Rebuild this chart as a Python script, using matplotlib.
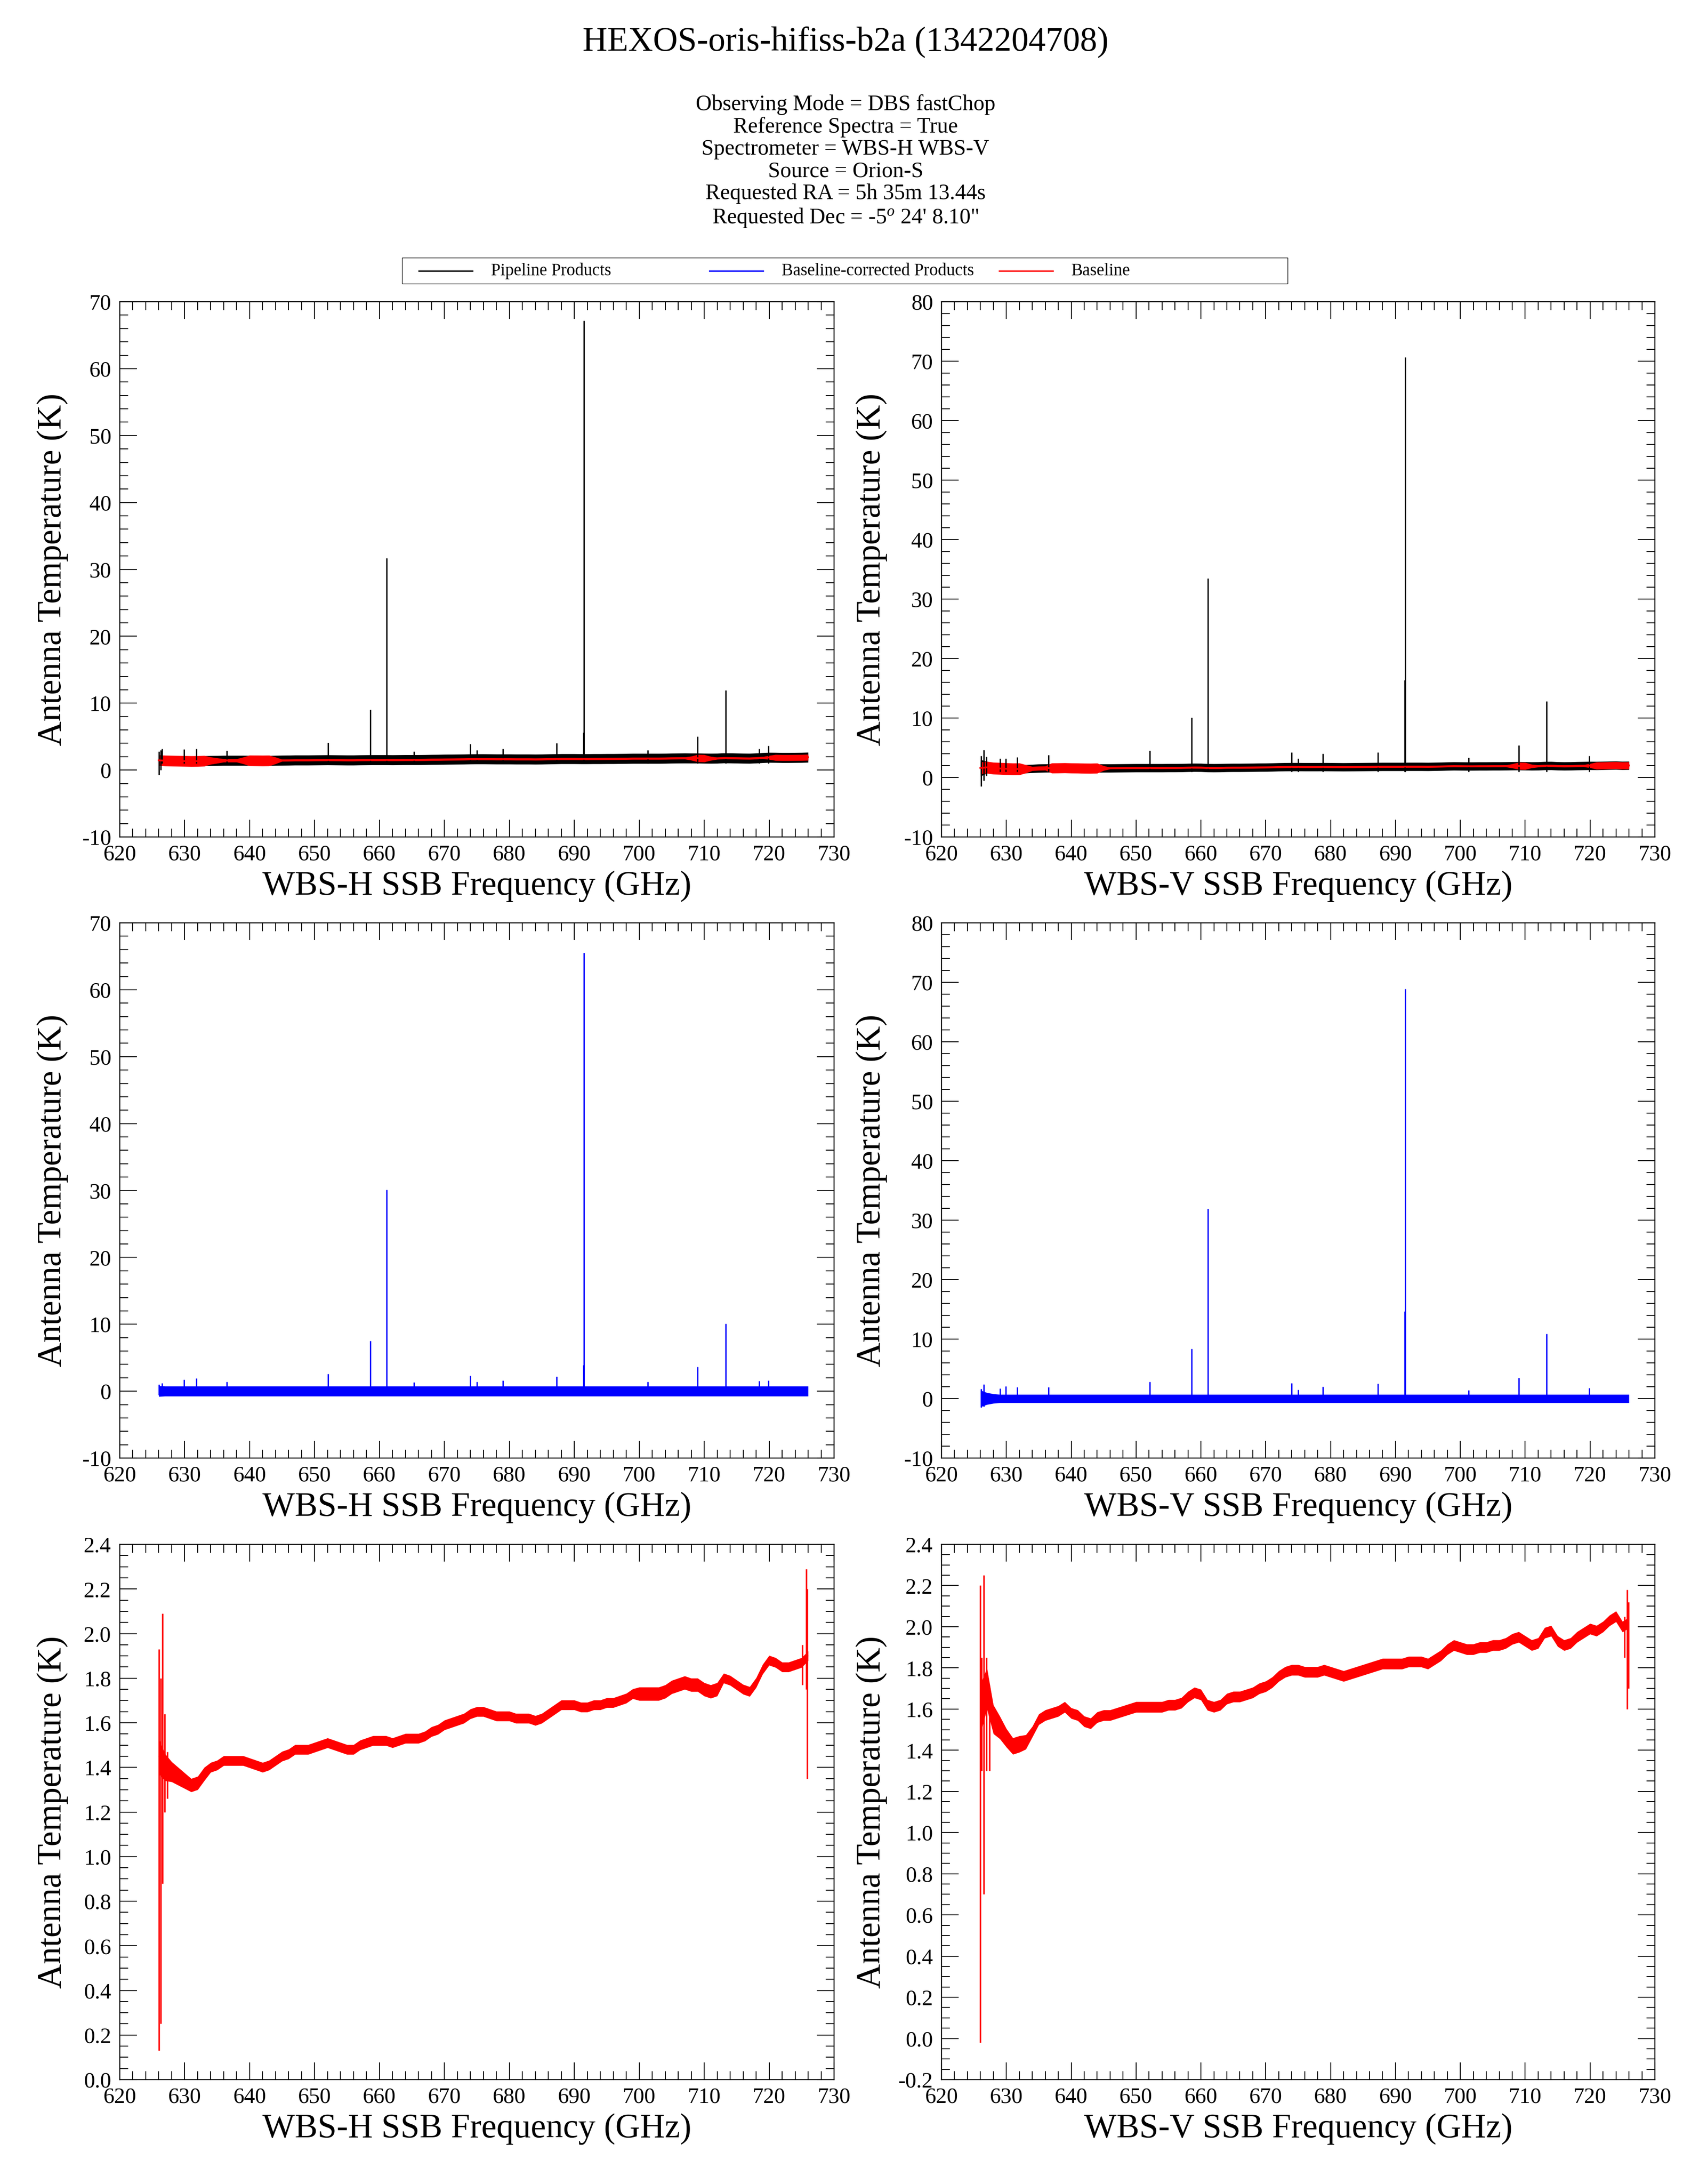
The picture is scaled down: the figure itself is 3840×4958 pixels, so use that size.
import numpy as np
import matplotlib
matplotlib.use("Agg")
import matplotlib.pyplot as plt
from matplotlib.ticker import MultipleLocator, FormatStrFormatter
from matplotlib.lines import Line2D
from matplotlib.patches import Rectangle

plt.rcParams["font.family"] = ["Liberation Serif", "DejaVu Serif"]
plt.rcParams["mathtext.fontset"] = "custom"
plt.rcParams["mathtext.rm"] = "Liberation Serif"
plt.rcParams["mathtext.it"] = "Liberation Serif:italic"
plt.rcParams["axes.unicode_minus"] = False

# ---------------- data ----------------
TITLE = "HEXOS-oris-hifiss-b2a (1342204708)"
INFO_LINES = ["Observing Mode = DBS fastChop",
              "Reference Spectra = True",
              "Spectrometer = WBS-H WBS-V",
              "Source = Orion-S",
              "Requested RA = 5h 35m 13.44s",
              "Requested Dec = -5$^o$ 24' 8.10\""]
LEGEND_LABELS = ["Pipeline Products", "Baseline-corrected Products", "Baseline"]
LEGEND_COLORS = ["black", "blue", "red"]

FREQ = list(range(626, 727))  # GHz, 1 GHz sampling of the smooth baseline

BASE_H = [1.45, 1.40, 1.38, 1.36, 1.34, 1.32, 1.33, 1.37, 1.40, 1.41,
          1.43, 1.43, 1.43, 1.43, 1.42, 1.41, 1.40, 1.41, 1.43, 1.45,
          1.46, 1.48, 1.48, 1.48, 1.49, 1.50, 1.51, 1.50, 1.49, 1.48,
          1.48, 1.50, 1.51, 1.52, 1.52, 1.52, 1.51, 1.52, 1.53, 1.53,
          1.53, 1.54, 1.56, 1.57, 1.59, 1.60, 1.61, 1.62, 1.64, 1.65,
          1.65, 1.64, 1.63, 1.63, 1.63, 1.62, 1.62, 1.62, 1.61, 1.62,
          1.64, 1.66, 1.68, 1.68, 1.68, 1.67, 1.67, 1.68, 1.68, 1.69,
          1.69, 1.70, 1.71, 1.73, 1.73, 1.73, 1.73, 1.73, 1.74, 1.76,
          1.77, 1.78, 1.77, 1.77, 1.75, 1.74, 1.75, 1.80, 1.79, 1.77,
          1.75, 1.74, 1.78, 1.84, 1.88, 1.87, 1.85, 1.85, 1.86, 1.87,
          1.90]
BASE_V = [1.60, 1.70, 1.55, 1.51, 1.46, 1.42, 1.43, 1.44, 1.49, 1.55,
          1.57, 1.58, 1.59, 1.61, 1.58, 1.57, 1.54, 1.53, 1.56, 1.57,
          1.57, 1.58, 1.59, 1.60, 1.61, 1.61, 1.61, 1.61, 1.61, 1.62,
          1.62, 1.63, 1.66, 1.68, 1.67, 1.62, 1.61, 1.62, 1.65, 1.66,
          1.66, 1.67, 1.68, 1.70, 1.71, 1.73, 1.76, 1.78, 1.79, 1.79,
          1.78, 1.78, 1.78, 1.79, 1.78, 1.77, 1.76, 1.77, 1.78, 1.79,
          1.80, 1.81, 1.82, 1.82, 1.82, 1.82, 1.83, 1.83, 1.83, 1.82,
          1.84, 1.86, 1.89, 1.91, 1.90, 1.89, 1.89, 1.90, 1.90, 1.91,
          1.91, 1.92, 1.94, 1.95, 1.93, 1.91, 1.92, 1.97, 1.98, 1.93,
          1.91, 1.92, 1.95, 1.97, 1.99, 1.98, 2.00, 2.03, 2.05, 2.00,
          2.02]

# half-width of the baseline ripple seen in the bottom panels (K)
SPREAD_H = [0.08, 0.06, 0.045, 0.04, 0.035, 0.03, 0.03, 0.03] + [0.022] * 66 + [0.03] * 13 + [0.022] * 14
SPREAD_V = [0.12, 0.10, 0.07, 0.055, 0.045, 0.04, 0.04, 0.035] + [0.026] * 93

# half-width of the channel noise in the spectra (K)
NOISE_H = [0.8] + [0.75] * 100
NOISE_V = [1.4, 1.0, 0.8] + [0.7] * 98

# half-width of the red baseline trace as seen in the top panels (K)
REDTOP_H = ([0.8] * 8 + [0.55, 0.4] + [0.25] * 3 + [0.5] + [0.8] * 4 + [0.5] + [0.15] * 63
            + [0.3] + [0.55] * 2 + [0.3] + [0.15] * 8 + [0.3] + [0.45] * 6)
REDTOP_V = ([1.0] * 7 + [0.7] + [0.35] * 3 + [0.85] * 8 + [0.4] + [0.15] * 62
            + [0.35] + [0.6] * 2 + [0.3] + [0.18] * 8 + [0.35] + [0.6] * 6)

# emission lines: frequency, peak in baseline-corrected and pipeline spectra
LINES_H_FREQ = [626.5, 629.9, 631.8, 636.5, 652.1, 658.6, 661.1, 665.3, 674.0, 675.0,
                679.0, 687.3, 691.4, 691.5, 701.3, 709.0, 713.3, 718.5, 719.9]
BLUE_H_PEAK = [1.2, 1.7, 1.9, 1.4, 2.6, 7.5, 30.1, 1.3, 2.3, 1.4,
               1.6, 2.2, 3.9, 65.5, 1.4, 3.6, 10.1, 1.5, 1.6]
BLACK_H_PEAK = [3.2, 3.1, 3.2, 2.9, 4.1, 9.0, 31.7, 2.8, 3.9, 3.0,
                3.2, 4.0, 5.6, 67.2, 3.0, 5.0, 11.9, 3.2, 3.6]

LINES_V_FREQ = [626.5, 629.0, 629.9, 631.7, 636.5, 652.1, 658.6, 661.1, 674.0, 675.0,
                678.8, 687.3, 691.4, 691.5, 701.3, 709.0, 713.3, 719.9]
BLUE_V_PEAK = [2.4, 1.7, 2.1, 1.9, 1.9, 2.8, 8.4, 31.9, 2.6, 1.5,
               2.0, 2.5, 14.7, 68.9, 1.4, 3.5, 10.9, 1.8]
BLACK_V_PEAK = [4.6, 3.2, 3.2, 3.4, 3.8, 4.5, 10.05, 33.5, 4.2, 3.2,
                4.0, 4.2, 16.4, 70.7, 3.3, 5.4, 12.8, 3.6]

# band-edge glitches (frequency, low, high)
EDGE_H_X = [626.05, 626.3, 626.6, 626.9, 627.3, 725.1, 725.7, 725.85]
EDGE_H_LO = [0.13, 0.25, 0.88, 1.20, 1.26, 1.77, 1.75, 1.35]
EDGE_H_HI = [1.93, 1.80, 2.09, 1.64, 1.47, 1.95, 2.29, 2.20]
EDGE_V_X = [626.0, 626.2, 626.55, 626.9, 627.4, 725.3, 725.7, 725.9]
EDGE_V_LO = [-0.02, 1.30, 0.70, 1.30, 1.30, 1.85, 1.60, 1.70]
EDGE_V_HI = [2.20, 1.85, 2.25, 1.85, 1.68, 2.05, 2.18, 2.12]

TOPEDGE_H_X, TOPEDGE_H_LO, TOPEDGE_H_HI = [626.05, 626.3], [-0.7, 0.0], [2.8, 3.0]
TOPEDGE_V_X, TOPEDGE_V_LO, TOPEDGE_V_HI = [626.1, 626.5, 626.9], [-1.45, -0.5, 0.3], [3.6, 4.6, 3.5]
MIDEDGE_H_X, MIDEDGE_H_LO, MIDEDGE_H_HI = [626.05], [-0.6], [1.0]
MIDEDGE_V_X, MIDEDGE_V_LO, MIDEDGE_V_HI = [626.1, 626.5], [-1.5, -1.3], [1.6, 2.4]

XLABELS = ["WBS-H SSB Frequency (GHz)", "WBS-V SSB Frequency (GHz)"]
YLABEL = "Antenna Temperature (K)"

# ---------------- figure ----------------
W, H = 3840, 4958
fig = plt.figure(figsize=(W / 100, H / 100), dpi=100)


def fx(p):
    return p / W


def fy(p):
    return 1 - p / H


fig.text(0.5, fy(114), TITLE, ha="center", va="baseline", fontsize=56)
for line, yb in zip(INFO_LINES, [250, 301, 351, 402, 452, 507]):
    fig.text(0.5, fy(yb), line, ha="center", va="baseline", fontsize=36)

# legend box
fig.add_artist(Rectangle((fx(913), fy(644)), fx(2924 - 913), (644 - 585) / H,
                         transform=fig.transFigure, fill=False, lw=1.0, ec="black"))
for lab, col, x0 in zip(LEGEND_LABELS, LEGEND_COLORS, [951, 1611, 2269]):
    fig.add_artist(Line2D([fx(x0), fx(x0 + 122)], [fy(615), fy(615)], color=col, lw=2.2,
                          transform=fig.transFigure))
    fig.text(fx(x0 + 164), fy(625), lab, ha="left", va="baseline", fontsize=28)

col_left = [272, 2138]
col_width = [1622, 1620]
row_top = [685, 2095, 3506]
row_h = 1215

F = np.array(FREQ, dtype=float)


def style(ax, ylim, ymaj, ymin_, fmt, xlabel, ylab_x):
    ax.set_xlim(620, 730)
    ax.set_ylim(*ylim)
    ax.xaxis.set_major_locator(MultipleLocator(10))
    ax.xaxis.set_minor_locator(MultipleLocator(2))
    ax.yaxis.set_major_locator(MultipleLocator(ymaj))
    ax.yaxis.set_minor_locator(MultipleLocator(ymin_))
    ax.yaxis.set_major_formatter(FormatStrFormatter(fmt))
    ax.tick_params(which="both", direction="in", top=True, right=True, width=1.5,
                   labelsize=36)
    ax.tick_params(which="major", length=28)
    ax.tick_params(which="minor", length=14)
    ax.tick_params(axis="x", pad=12)
    ax.tick_params(axis="y", pad=14)
    for s in ax.spines.values():
        s.set_linewidth(1.7)
    ax.set_xlabel(XLABELS[xlabel], fontsize=56)
    ax.set_ylabel(YLABEL, fontsize=56)
    ax.xaxis.set_label_coords(0.5, -0.063)
    ax.yaxis.set_label_coords(ylab_x, 0.5)


pol = [
    dict(base=np.array(BASE_H), spread=np.array(SPREAD_H), noise=np.array(NOISE_H),
         red=np.array(REDTOP_H), lf=LINES_H_FREQ, bp=BLUE_H_PEAK, kp=BLACK_H_PEAK,
         ex=EDGE_H_X, elo=EDGE_H_LO, ehi=EDGE_H_HI,
         tx=TOPEDGE_H_X, tlo=TOPEDGE_H_LO, thi=TOPEDGE_H_HI,
         mx=MIDEDGE_H_X, mlo=MIDEDGE_H_LO, mhi=MIDEDGE_H_HI,
         ytop=(-10, 70), ybot=(0, 2.4), ylab_x=-0.072),
    dict(base=np.array(BASE_V), spread=np.array(SPREAD_V), noise=np.array(NOISE_V),
         red=np.array(REDTOP_V), lf=LINES_V_FREQ, bp=BLUE_V_PEAK, kp=BLACK_V_PEAK,
         ex=EDGE_V_X, elo=EDGE_V_LO, ehi=EDGE_V_HI,
         tx=TOPEDGE_V_X, tlo=TOPEDGE_V_LO, thi=TOPEDGE_V_HI,
         mx=MIDEDGE_V_X, mlo=MIDEDGE_V_LO, mhi=MIDEDGE_V_HI,
         ytop=(-10, 80), ybot=(-0.2, 2.4), ylab_x=-0.076),
]

for c in range(2):
    d = pol[c]
    axes = []
    for r in range(3):
        ax = fig.add_axes([fx(col_left[c]), fy(row_top[r] + row_h), fx(col_width[c]), row_h / H])
        axes.append(ax)
    # top: pipeline products + baseline
    ax = axes[0]
    ax.fill_between(F, d["base"] - d["noise"], d["base"] + d["noise"], color="black", lw=0)
    ax.vlines(d["lf"], 1.0, d["kp"], color="black", lw=2.2)
    ax.vlines(d["tx"], d["tlo"], d["thi"], color="black", lw=2.2)
    ax.fill_between(F, d["base"] - d["red"], d["base"] + d["red"], color="red", lw=0)
    ax.plot(F, d["base"], color="red", lw=3)
    style(ax, d["ytop"], 10, 2, "%d", c, d["ylab_x"])
    # middle: baseline-corrected
    ax = axes[1]
    ax.fill_between(F, -d["noise"], d["noise"], color="blue", lw=0)
    ax.vlines(d["lf"], 0, d["bp"], color="blue", lw=2.2)
    ax.vlines(d["mx"], d["mlo"], d["mhi"], color="blue", lw=2.2)
    style(ax, d["ytop"], 10, 2, "%d", c, d["ylab_x"])
    # bottom: baseline
    ax = axes[2]
    ax.fill_between(F, d["base"] - d["spread"], d["base"] + d["spread"], color="red", lw=0)
    ax.plot(F, d["base"], color="red", lw=1.0)
    ax.vlines(d["ex"], d["elo"], d["ehi"], color="red", lw=2.5)
    style(ax, d["ybot"], 0.2, 0.05, "%.1f", c, d["ylab_x"])

fig.savefig("out.png", dpi=100)
